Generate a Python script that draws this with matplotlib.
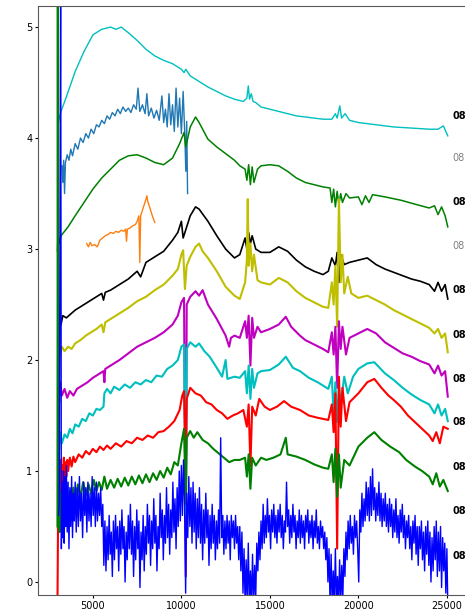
import matplotlib
matplotlib.use('Agg')
import matplotlib.pyplot as plt

# spectra, top to bottom: (wavelength, scaled flux + offset)
cyan_top = [(3030, 4.12), (3100, 4.18), (3200, 4.24), (3500, 4.37), (4000, 4.6), (4500, 4.78),
            (5000, 4.93), (5500, 4.98), (6000, 5.0), (6300, 4.98), (6600, 5.0), (7000, 4.95),
            (7500, 4.88), (8000, 4.8), (8500, 4.74), (9000, 4.7), (9500, 4.67), (10000, 4.62),
            (10150, 4.59), (10250, 4.62), (10500, 4.56), (11000, 4.51), (11500, 4.46), (12000, 4.42),
            (12500, 4.38), (13000, 4.35), (13500, 4.33), (13700, 4.36), (13780, 4.47), (13850, 4.35),
            (13950, 4.4), (14050, 4.33), (14200, 4.32), (14500, 4.28), (15000, 4.26), (15500, 4.24),
            (16000, 4.22), (16500, 4.2), (17000, 4.19), (18000, 4.17), (18500, 4.17), (18700, 4.22),
            (18800, 4.18), (18950, 4.29), (19050, 4.18), (19250, 4.22), (19500, 4.16), (20000, 4.14),
            (21000, 4.12), (22000, 4.1), (23000, 4.09), (24000, 4.08), (24500, 4.08), (24800, 4.11),
            (25050, 4.02)]

blue_c0 = [(3250, 3.75), (3300, 3.6), (3350, 3.8), (3400, 3.5), (3450, 3.78), (3550, 3.85),
           (3650, 3.8), (3750, 3.9), (3850, 3.84), (4000, 3.95), (4150, 3.9), (4300, 4.0),
           (4450, 3.96), (4600, 4.04), (4750, 4.0), (4900, 4.08), (5050, 4.04), (5200, 4.12),
           (5350, 4.1), (5500, 4.16), (5650, 4.13), (5800, 4.2), (5950, 4.17), (6100, 4.23),
           (6250, 4.2), (6400, 4.26), (6550, 4.22), (6700, 4.28), (6850, 4.24), (7000, 4.27),
           (7150, 4.23), (7300, 4.3), (7450, 4.26), (7550, 4.45), (7650, 4.24), (7800, 4.3),
           (7950, 4.22), (8050, 4.4), (8150, 4.2), (8300, 4.27), (8450, 4.18), (8600, 4.25),
           (8750, 4.16), (8900, 4.38), (9000, 4.14), (9100, 4.26), (9200, 4.1), (9300, 4.4),
           (9400, 4.12), (9500, 4.3), (9600, 4.06), (9700, 4.45), (9800, 4.1), (9900, 4.36),
           (10000, 4.04), (10100, 4.42), (10200, 4.0), (10250, 3.7), (10300, 4.15), (10350, 3.5)]

green_top = [(3000, 2.98), (3030, 3.15), (3100, 3.05), (3200, 3.12), (3400, 3.16), (3600, 3.2),
             (4000, 3.3), (4500, 3.42), (5000, 3.54), (5500, 3.64), (6000, 3.72), (6500, 3.8),
             (7000, 3.84), (7500, 3.85), (8000, 3.82), (8500, 3.78), (9000, 3.76), (9500, 3.82),
             (9900, 3.95), (10150, 4.05), (10250, 3.92), (10500, 4.1), (10800, 4.19), (11000, 4.14),
             (11500, 3.99), (12000, 3.92), (12500, 3.86), (13000, 3.8), (13300, 3.75), (13600, 3.72),
             (13700, 3.62), (13800, 3.76), (13900, 3.58), (14000, 3.74), (14100, 3.6), (14300, 3.72),
             (14500, 3.75), (15000, 3.76), (15500, 3.75), (16000, 3.7), (16500, 3.64), (17000, 3.6),
             (17500, 3.58), (18000, 3.56), (18400, 3.55), (18500, 3.42), (18600, 3.54), (18700, 3.38),
             (18800, 3.52), (18900, 3.4), (19000, 3.5), (19100, 3.42), (19300, 3.5), (19500, 3.46),
             (20000, 3.47), (20200, 3.4), (20400, 3.48), (20600, 3.42), (20800, 3.49), (21500, 3.47),
             (22400, 3.44), (23300, 3.4), (24000, 3.37), (24300, 3.39), (24500, 3.31), (24700, 3.38),
             (24900, 3.3), (25050, 3.2)]

orange = [(4650, 3.05), (4750, 3.02), (4850, 3.06), (4950, 3.03), (5100, 3.04), (5250, 3.02),
          (5400, 3.08), (5550, 3.1), (5700, 3.12), (5850, 3.13), (6000, 3.15), (6150, 3.14),
          (6300, 3.16), (6450, 3.15), (6600, 3.17), (6750, 3.16), (6850, 3.18), (6900, 3.07),
          (6950, 3.18), (7100, 3.19), (7250, 3.21), (7400, 3.22), (7500, 3.25), (7600, 3.3),
          (7650, 2.88), (7700, 3.3), (7800, 3.35), (7900, 3.4), (8000, 3.45), (8050, 3.48),
          (8100, 3.43), (8200, 3.38), (8300, 3.33), (8400, 3.28), (8500, 3.24)]

black = [(3050, 2.35), (3100, 2.28), (3150, 2.42), (3200, 2.32), (3300, 2.4), (3500, 2.38),
         (4000, 2.45), (4500, 2.5), (5000, 2.55), (5500, 2.6), (5600, 2.54), (5700, 2.61),
         (6000, 2.63), (6500, 2.68), (7000, 2.73), (7500, 2.8), (7700, 2.75), (8000, 2.88),
         (8500, 2.93), (9000, 2.98), (9500, 3.08), (9800, 3.15), (10000, 3.25), (10100, 3.1),
         (10200, 3.15), (10500, 3.3), (10800, 3.38), (11000, 3.36), (11500, 3.25), (12000, 3.12),
         (12500, 3.0), (13000, 2.92), (13300, 2.95), (13600, 3.1), (13700, 3.0), (13800, 3.15),
         (13900, 3.05), (14000, 3.12), (14200, 3.0), (14500, 2.97), (15000, 2.97), (15500, 3.02),
         (16000, 2.98), (16500, 2.9), (17000, 2.84), (17500, 2.8), (18000, 2.77), (18300, 2.8),
         (18500, 2.92), (18700, 2.85), (18800, 2.97), (18900, 2.7), (19000, 2.95), (19200, 2.86),
         (19500, 2.88), (20000, 2.9), (20500, 2.92), (21000, 2.86), (21500, 2.82), (22000, 2.79),
         (22500, 2.76), (23000, 2.73), (23500, 2.71), (24000, 2.68), (24300, 2.62), (24500, 2.7),
         (24700, 2.62), (24900, 2.68), (25050, 2.55)]

yellow = [(3050, 2.1), (3100, 2.18), (3150, 2.05), (3250, 2.12), (3400, 2.08), (3600, 2.12),
          (3800, 2.1), (4000, 2.15), (4300, 2.18), (4600, 2.22), (4900, 2.25), (5200, 2.28),
          (5500, 2.32), (5600, 2.25), (5700, 2.34), (6000, 2.37), (6500, 2.42), (7000, 2.47),
          (7500, 2.53), (8000, 2.57), (8500, 2.63), (9000, 2.68), (9500, 2.76), (9800, 2.82),
          (10000, 2.95), (10100, 2.99), (10200, 2.64), (10300, 2.85), (10500, 2.93), (10800, 3.02),
          (11000, 3.05), (11200, 2.98), (11500, 2.92), (12000, 2.8), (12500, 2.66), (13000, 2.58),
          (13300, 2.55), (13600, 2.7), (13700, 2.9), (13750, 3.45), (13800, 2.85), (13900, 3.05),
          (14000, 2.8), (14100, 2.95), (14300, 2.72), (14500, 2.7), (15000, 2.68), (15500, 2.74),
          (16000, 2.7), (16500, 2.62), (17000, 2.56), (17500, 2.52), (18000, 2.48), (18300, 2.47),
          (18500, 2.7), (18600, 2.5), (18700, 2.85), (18800, 2.3), (18900, 3.45), (19000, 2.7),
          (19100, 2.95), (19200, 2.6), (19400, 2.75), (19600, 2.6), (20000, 2.56), (20500, 2.58),
          (21000, 2.54), (21500, 2.5), (22000, 2.45), (22500, 2.41), (23000, 2.37), (23500, 2.33),
          (24000, 2.29), (24300, 2.24), (24500, 2.28), (24700, 2.2), (24900, 2.24), (25050, 2.07)]

magenta = [(3050, 1.72), (3100, 1.62), (3150, 1.8), (3250, 1.68), (3400, 1.74), (3550, 1.66),
           (3700, 1.72), (3900, 1.68), (4100, 1.74), (4400, 1.77), (4700, 1.8), (5000, 1.84),
           (5300, 1.87), (5600, 1.9), (5650, 1.8), (5700, 1.92), (6000, 1.95), (6500, 2.0),
           (7000, 2.06), (7500, 2.12), (8000, 2.16), (8500, 2.2), (9000, 2.25), (9500, 2.32),
           (9800, 2.4), (10000, 2.52), (10150, 2.56), (10250, 0.05), (10300, 2.5), (10500, 2.57),
           (10800, 2.62), (11000, 2.58), (11200, 2.63), (11500, 2.5), (12000, 2.37), (12500, 2.22),
           (12700, 2.12), (12800, 2.2), (13000, 2.22), (13300, 2.2), (13600, 2.35), (13700, 2.2),
           (13800, 2.4), (13900, 1.95), (14000, 2.38), (14100, 2.2), (14300, 2.3), (14500, 2.25),
           (15000, 2.28), (15500, 2.32), (15900, 2.39), (16200, 2.3), (16700, 2.22), (17000, 2.18),
           (17500, 2.14), (18000, 2.1), (18300, 2.07), (18500, 2.25), (18600, 2.05), (18700, 2.3),
           (18800, 1.75), (18900, 2.35), (19000, 2.1), (19100, 2.3), (19300, 2.05), (19500, 2.2),
           (20000, 2.24), (20500, 2.28), (21000, 2.24), (21500, 2.16), (22000, 2.11), (22500, 2.06),
           (23000, 2.03), (23500, 1.99), (24000, 1.96), (24300, 1.88), (24500, 1.95), (24700, 1.86),
           (24900, 1.9), (25050, 1.67)]

cyan_low = [(3050, 1.28), (3100, 1.2), (3150, 1.35), (3250, 1.25), (3400, 1.33), (3550, 1.3),
            (3700, 1.38), (3850, 1.34), (4000, 1.42), (4200, 1.4), (4400, 1.47), (4600, 1.45),
            (4800, 1.52), (5000, 1.5), (5200, 1.56), (5400, 1.55), (5600, 1.58), (5650, 1.7),
            (5800, 1.74), (6000, 1.7), (6200, 1.76), (6500, 1.73), (6800, 1.78), (7100, 1.75),
            (7400, 1.8), (7700, 1.78), (8000, 1.82), (8300, 1.8), (8600, 1.86), (8900, 1.85),
            (9200, 1.92), (9500, 1.95), (9800, 2.0), (10000, 2.12), (10150, 2.14), (10250, 0.6),
            (10300, 2.1), (10500, 2.16), (10800, 2.12), (11000, 2.15), (11300, 2.08), (11600, 2.03),
            (12000, 1.93), (12300, 1.85), (12500, 2.0), (12600, 1.83), (13000, 1.85), (13300, 1.84),
            (13600, 1.9), (13700, 1.7), (13800, 1.95), (13900, 1.65), (14000, 1.92), (14100, 1.75),
            (14300, 1.88), (14500, 1.9), (15000, 1.91), (15500, 1.96), (15900, 2.03), (16300, 1.93),
            (16700, 1.9), (17200, 1.84), (17700, 1.8), (18000, 1.77), (18300, 1.74), (18500, 1.85),
            (18600, 1.5), (18700, 1.8), (18800, 1.44), (18900, 1.75), (19000, 1.6), (19200, 1.85),
            (19400, 1.7), (19700, 1.85), (20000, 1.92), (20500, 1.97), (20900, 1.98), (21500, 1.88),
            (22000, 1.82), (22500, 1.75), (23000, 1.69), (23500, 1.64), (24000, 1.6), (24300, 1.52),
            (24500, 1.6), (24700, 1.5), (24900, 1.56), (25050, 1.45)]

red = [(3000, -0.2), (3050, 0.95), (3100, 0.65), (3130, 1.05), (3160, 0.75), (3200, 1.1),
       (3240, 0.8), (3280, 1.05), (3320, 0.85), (3360, 1.12), (3400, 0.9), (3450, 1.08),
       (3500, 0.95), (3550, 1.1), (3600, 1.0), (3700, 1.12), (3800, 1.04), (3900, 1.13),
       (4000, 1.08), (4200, 1.15), (4400, 1.12), (4600, 1.18), (4800, 1.15), (5000, 1.2),
       (5200, 1.17), (5400, 1.22), (5600, 1.19), (5800, 1.23), (6000, 1.2), (6300, 1.25),
       (6600, 1.22), (6900, 1.27), (7200, 1.25), (7500, 1.3), (7800, 1.28), (8100, 1.32),
       (8400, 1.3), (8700, 1.35), (9000, 1.36), (9300, 1.4), (9600, 1.45), (9900, 1.55),
       (10050, 1.68), (10150, 1.72), (10250, 1.0), (10300, 1.65), (10500, 1.75), (10800, 1.7),
       (11100, 1.68), (11400, 1.62), (11700, 1.6), (12000, 1.55), (12300, 1.52), (12600, 1.47),
       (12900, 1.5), (13200, 1.52), (13500, 1.55), (13700, 1.4), (13800, 1.6), (13900, 1.04),
       (14000, 1.58), (14200, 1.5), (14400, 1.65), (14700, 1.58), (15000, 1.55), (15400, 1.58),
       (15800, 1.63), (16200, 1.58), (16700, 1.55), (17200, 1.5), (17700, 1.48), (18000, 1.47),
       (18300, 1.46), (18500, 1.6), (18600, 1.35), (18700, 1.7), (18800, 0.3), (18900, 1.85),
       (19000, 1.4), (19100, 1.75), (19300, 1.45), (19500, 1.62), (20000, 1.7), (20500, 1.8),
       (20900, 1.83), (21300, 1.75), (21700, 1.68), (22000, 1.64), (22400, 1.58), (22800, 1.5),
       (23200, 1.44), (23600, 1.38), (24000, 1.32), (24200, 1.27), (24400, 1.35), (24600, 1.25),
       (24800, 1.4), (25050, 1.38)]

green_low = [(3000, 0.5), (3020, 5.6), (3040, 0.6), (3080, 0.9), (3120, 0.45), (3160, 0.8),
             (3200, 0.55), (3250, 0.85), (3300, 0.6), (3350, 0.78), (3400, 0.62), (3500, 0.8),
             (3600, 0.65), (3700, 0.82), (3800, 0.7), (3900, 0.85), (4000, 0.72), (4150, 0.88),
             (4300, 0.76), (4450, 0.9), (4600, 0.78), (4750, 0.88), (4900, 0.8), (5050, 0.92),
             (5200, 0.82), (5350, 0.9), (5500, 0.83), (5650, 0.95), (5800, 0.84), (6000, 0.92),
             (6200, 0.85), (6400, 0.93), (6600, 0.86), (6800, 0.94), (7000, 0.87), (7200, 0.95),
             (7400, 0.88), (7600, 0.96), (7800, 0.89), (8000, 0.97), (8200, 0.9), (8400, 0.98),
             (8600, 0.92), (8800, 1.0), (9000, 0.94), (9200, 1.03), (9400, 0.97), (9600, 1.08),
             (9800, 1.05), (10000, 1.25), (10150, 1.38), (10250, 0.7), (10300, 1.3), (10500, 1.36),
             (10700, 1.3), (10900, 1.35), (11200, 1.28), (11500, 1.25), (11800, 1.2), (12100, 1.16),
             (12400, 1.12), (12700, 1.08), (13000, 1.1), (13300, 1.1), (13600, 1.12), (13700, 0.95),
             (13800, 1.15), (13900, 0.84), (14000, 1.12), (14200, 1.05), (14500, 1.12), (14800, 1.1),
             (15200, 1.12), (15600, 1.15), (15900, 1.3), (16000, 1.15), (16500, 1.13), (17000, 1.1),
             (17500, 1.06), (18000, 1.03), (18300, 1.02), (18500, 1.15), (18600, 0.9), (18700, 1.2),
             (18800, 0.77), (18900, 1.15), (19000, 0.85), (19200, 1.1), (19500, 1.05), (20000, 1.22),
             (20500, 1.3), (20900, 1.35), (21300, 1.28), (21800, 1.22), (22300, 1.17), (22700, 1.1),
             (23200, 1.04), (23600, 1.0), (24000, 0.95), (24200, 0.88), (24400, 0.98), (24600, 0.86),
             (24800, 0.92), (25050, 0.82)]

blue_low = [(3060, 0.6), (3100, 0.7), (3180, 5.6), (3220, 0.3), (3260, 0.9), (3300, 0.4), (3340, 1.0),
            (3380, 0.35), (3420, 0.95), (3460, 0.5), (3500, 1.05), (3550, 0.45), (3600, 0.9),
            (3650, 0.3), (3700, 0.85), (3750, 0.5), (3800, 0.95), (3850, 0.4), (3900, 0.8),
            (3950, 0.55), (4000, 0.9), (4060, 0.45), (4120, 0.85), (4180, 0.5), (4240, 0.95),
            (4300, 0.55), (4360, 0.8), (4420, 0.4), (4480, 0.9), (4540, 0.6), (4600, 0.85),
            (4660, 0.45), (4720, 0.9), (4780, 0.55), (4840, 0.8), (4900, 0.5), (4960, 0.95),
            (5020, 0.6), (5080, 0.85), (5140, 0.5), (5200, 0.9), (5260, 0.55), (5320, 0.8),
            (5380, 0.6), (5440, 0.85), (5500, 0.5), (5560, 0.7), (5620, 0.15), (5680, 0.55),
            (5740, 0.1), (5800, 0.5), (5860, 0.2), (5920, 0.6), (5980, 0.25), (6040, 0.45),
            (6100, 0.05), (6160, 0.55), (6220, 0.2), (6280, 0.6), (6340, 0.3), (6400, 0.5),
            (6460, 0.1), (6520, 0.55), (6580, 0.25), (6640, 0.65), (6700, 0.3), (6760, 0.5),
            (6820, 0.0), (6880, 0.45), (6940, 0.2), (7000, 0.6), (7060, 0.3), (7120, 0.7),
            (7180, 0.25), (7240, 0.55), (7300, 0.05), (7360, 0.5), (7420, 0.2), (7480, 0.65),
            (7540, 0.3), (7600, 0.55), (7660, -0.05), (7720, 0.45), (7780, 0.2), (7840, 0.6),
            (7900, 0.1), (7960, 0.5), (8020, 0.25), (8080, 0.7), (8140, 0.35), (8200, 0.6),
            (8260, 0.15), (8320, 0.55), (8380, 0.3), (8440, 0.75), (8500, 0.35), (8560, 0.6),
            (8620, 0.1), (8680, 0.5), (8740, 0.3), (8800, 0.8), (8860, 0.4), (8920, 0.65),
            (8980, 0.2), (9040, 0.6), (9100, 0.35), (9160, 0.85), (9220, 0.4), (9280, 0.7),
            (9340, 0.25), (9400, 0.65), (9460, 0.4), (9520, 0.9), (9580, 0.45), (9640, 0.75),
            (9700, 0.3), (9760, 0.85), (9820, 0.5), (9880, 1.0), (9940, 0.55), (10000, 1.05),
            (10060, 0.6), (10120, 1.1), (10180, 0.7), (10240, -0.1), (10300, 0.8), (10360, 0.4),
            (10420, 0.95), (10480, 0.5), (10540, 0.85), (10600, 0.35), (10660, 0.9), (10720, 0.45),
            (10780, 0.8), (10840, 0.3), (10900, 0.75), (10960, 0.4), (11020, 0.85), (11080, 0.35),
            (11140, 0.7), (11200, 0.2), (11260, 0.65), (11320, 0.35), (11380, 0.8), (11440, 0.4),
            (11500, 0.65), (11560, 0.15), (11620, 0.6), (11680, 0.3), (11740, 0.7), (11800, 0.35),
            (11860, 0.6), (11920, 0.2), (11980, 0.55), (12040, 0.3), (12100, 0.65), (12160, 0.35),
            (12220, 1.3), (12280, 0.4), (12340, 0.6), (12400, 0.25), (12460, 0.55), (12520, 0.3),
            (12580, 0.6), (12640, 0.35), (12700, 0.55), (12760, 0.2), (12820, 0.6), (12880, 0.4),
            (12940, 0.55), (13000, 0.3), (13060, 0.6), (13120, 0.35), (13180, 0.5), (13240, 0.2),
            (13300, 0.5), (13360, 0.1), (13420, 0.45), (13480, -0.1), (13540, 0.3), (13600, -0.2),
            (13660, 0.2), (13720, -0.2), (13780, 0.35), (13840, -0.2), (13900, 0.1), (13960, -0.2),
            (14020, 0.25), (14080, -0.2), (14140, 0.15), (14200, -0.15), (14260, 0.35), (14320, 0.1),
            (14380, 0.45), (14440, 0.2), (14500, 0.55), (14560, 0.3), (14620, 0.7), (14680, 0.35),
            (14740, 0.6), (14800, 0.4), (14860, 0.75), (14920, 0.45), (14980, 0.6), (15040, 0.3),
            (15100, 0.65), (15160, 0.45), (15220, 0.7), (15280, 0.4), (15340, 0.6), (15400, 0.35),
            (15460, 0.65), (15520, 0.45), (15580, 0.7), (15640, 0.4), (15700, 0.6), (15760, 0.3),
            (15820, 0.55), (15880, 0.45), (15940, 0.9), (16000, 0.5), (16060, 0.65), (16120, 0.35),
            (16180, 0.6), (16240, 0.4), (16300, 0.7), (16360, 0.45), (16420, 0.6), (16480, 0.3),
            (16540, 0.55), (16600, 0.4), (16660, 0.65), (16720, 0.35), (16780, 0.6), (16840, 0.4),
            (16900, 0.55), (16960, 0.3), (17020, 0.6), (17080, 0.45), (17140, 0.65), (17200, 0.35),
            (17260, 0.55), (17320, 0.4), (17380, 0.6), (17440, 0.3), (17500, 0.55), (17560, 0.4),
            (17620, 0.65), (17680, 0.35), (17740, 0.5), (17800, 0.3), (17860, 0.55), (17920, 0.4),
            (17980, 0.5), (18040, 0.3), (18100, 0.45), (18160, 0.2), (18220, 0.4), (18280, 0.0),
            (18340, 0.3), (18400, -0.2), (18460, 0.25), (18520, -0.2), (18580, 0.1), (18640, -0.2),
            (18700, 0.3), (18760, -0.2), (18820, 0.05), (18880, -0.2), (18940, 0.2), (19000, -0.2),
            (19060, 0.15), (19120, -0.15), (19180, 0.3), (19240, 0.05), (19300, 0.45), (19360, 0.2),
            (19420, 0.55), (19480, 0.3), (19540, 0.6), (19600, 0.35), (19660, 0.5), (19720, 0.25),
            (19780, 0.6), (19840, 0.4), (19900, 0.55), (19960, 0.3), (20020, 0.0), (20080, 0.65),
            (20140, 0.45), (20200, 0.8), (20260, 0.5), (20320, 0.75), (20380, 0.55), (20440, 0.9),
            (20500, 0.6), (20560, 0.85), (20620, 0.55), (20680, 0.95), (20740, 0.6), (20800, 1.02),
            (20860, 0.65), (20920, 0.85), (20980, 0.55), (21040, 0.8), (21100, 0.6), (21160, 0.9),
            (21220, 0.55), (21280, 0.8), (21340, 0.5), (21400, 0.75), (21460, 0.55), (21520, 0.8),
            (21580, 0.5), (21640, 0.7), (21700, 0.45), (21760, 0.75), (21820, 0.5), (21880, 0.7),
            (21940, 0.4), (22000, 0.65), (22060, 0.45), (22120, 0.75), (22180, 0.4), (22240, 0.6),
            (22300, 0.35), (22360, 0.65), (22420, 0.45), (22480, 0.7), (22540, 0.4), (22600, 0.6),
            (22660, 0.3), (22720, 0.55), (22780, 0.4), (22840, 0.6), (22900, 0.3), (22960, 0.5),
            (23020, 0.2), (23080, 0.55), (23140, 0.35), (23200, 0.6), (23260, 0.25), (23320, 0.5),
            (23380, 0.15), (23440, 0.5), (23500, 0.3), (23560, 0.55), (23620, 0.2), (23680, 0.45),
            (23740, 0.1), (23800, 0.5), (23860, 0.25), (23920, 0.55), (23980, 0.15), (24040, 0.45),
            (24100, 0.0), (24160, 0.4), (24220, 0.1), (24280, 0.5), (24340, 0.2), (24400, 0.55),
            (24460, 0.05), (24520, 0.45), (24580, 0.1), (24640, 0.5), (24700, -0.05), (24760, 0.4),
            (24820, 0.1), (24880, 0.35), (24940, -0.1), (25000, 0.3), (25050, -0.2)]

spectra = [cyan_top, blue_c0, green_top, orange, black, yellow, magenta, cyan_low, red, green_low, blue_low]
colors = ['c', 'C0', 'g', 'C1', 'k', 'y', 'm', 'c', 'r', 'g', 'b']
# noisy spectra read as thick bands in the reference
widths = [1.0, 1.0, 1.1, 1.0, 1.2, 1.5, 1.5, 1.5, 1.5, 1.5, 1.0]

# names on the right, cut off by the figure edge
label_y = [4.2, 3.82, 3.42, 3.03, 2.63, 2.23, 1.83, 1.44, 1.04, 0.64, 0.23]
label_text = ['08'] * 11
label_dim = [False, True, False, True, False, False, False, False, False, False, False]

fig = plt.figure(figsize=(4.65, 6.1), dpi=100)
ax = fig.add_axes([38 / 465, 15 / 610, 462 / 465, 589 / 610])

for spec, col, lw in zip(spectra, colors, widths):
    w = [p[0] for p in spec]
    f = [p[1] for p in spec]
    ax.plot(w, f, color=col, lw=lw)

for y, t, dim in zip(label_y, label_text, label_dim):
    if dim:
        ax.text(25300, y, t, fontsize=7, color='0.5', ha='left', va='center')
    else:
        ax.text(25300, y, t, fontsize=7, color='k', fontweight='bold', ha='left', va='center')

ax.set_xlim(1900, 28000)
ax.set_ylim(-0.117, 5.19)
ax.set_xticks([5000, 10000, 15000, 20000, 25000])
ax.set_yticks([0, 1, 2, 3, 4, 5])
ax.tick_params(labelsize=7, length=2.5, pad=1.5)
for s in ax.spines.values():
    s.set_color('0.35')

fig.savefig('out.png', dpi=100)
